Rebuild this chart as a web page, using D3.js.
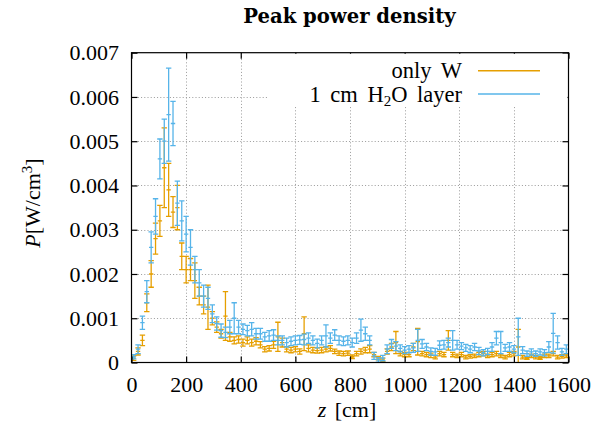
<!DOCTYPE html>
<html><head><meta charset="utf-8">
<script src="https://cdn.jsdelivr.net/npm/d3@7"></script>
<style>
body{margin:0;background:#fff}
svg{display:block}
</style>
</head><body>
<svg id="chart" width="592" height="433"></svg>
<script>
// ---- data (values in units of 1e-3 W/cm^3) ----
const binCenters = [8,24,40,56,72,88,104,120,136,152,168,184,200,216,232,248,264,280,296,312,
328,344,360,376,392,408,424,440,456,472,488,504,520,536,552,568,584,600,616,632,
648,664,680,696,712,728,744,760,776,792,808,824,840,856,872,888,904,920,936,952,
968,984,1000,1016,1032,1048,1064,1080,1096,1112,1128,1144,1160,1176,1192,1208,1224,1240,1256,1272,
1288,1304,1320,1336,1352,1368,1384,1400,1416,1432,1448,1464,1480,1496,1512,1528,1544,1560,1576,1592];
const binHalfWidth = 8;

const onlyW = [0.1,0.25,0.5,1.35,2.0,2.8,3.2,4.4,3.9,3.4,3.5,
2.4,2.1,2.1,1.85,1.5,1.3,1.25,1.0,0.8,0.65,
1.05,0.58,0.5,0.52,0.45,0.5,0.45,0.48,0.4,0.3,
0.32,0.4,0.58,0.45,0.3,0.28,0.3,0.25,0.65,0.32,
0.28,0.27,0.28,0.3,0.32,0.25,0.21,0.2,0.21,0.13,
0.2,0.25,0.28,0.3,0.18,0.1,0.06,0.25,0.35,0.45,
0.2,0.18,0.18,0.35,0.47,0.2,0.18,0.16,0.12,0.2,
0.18,0.5,0.18,0.15,0.18,0.12,0.14,0.15,0.18,0.2,
0.15,0.18,0.2,0.15,0.12,0.18,0.2,0.35,0.12,0.1,
0.15,0.12,0.1,0.15,0.15,0.2,0.12,0.14,0.15];
const onlyWErr = [0.05,0.08,0.12,0.2,0.3,0.35,0.35,0.9,0.6,0.35,0.5,
0.3,0.3,0.25,0.4,0.2,0.2,0.5,0.15,0.12,0.1,
0.55,0.1,0.08,0.08,0.08,0.08,0.08,0.08,0.07,0.06,
0.06,0.08,0.33,0.1,0.06,0.06,0.06,0.06,0.38,0.08,
0.06,0.06,0.06,0.06,0.06,0.05,0.05,0.05,0.05,0.04,
0.05,0.06,0.06,0.08,0.05,0.04,0.04,0.06,0.08,0.25,
0.05,0.05,0.05,0.08,0.3,0.05,0.05,0.05,0.04,0.05,
0.05,0.22,0.05,0.04,0.05,0.04,0.04,0.04,0.05,0.05,
0.04,0.05,0.05,0.04,0.04,0.05,0.05,0.4,0.04,0.03,
0.04,0.04,0.03,0.04,0.04,0.05,0.04,0.04,0.04];

const h2oLayer = [0.13,0.3,0.9,1.6,2.6,3.3,4.6,5.0,5.6,5.4,3.6,
3.2,2.9,2.6,2.1,1.8,1.5,1.45,1.1,0.88,0.72,
0.68,0.8,1.0,0.8,0.75,0.72,0.75,0.65,0.65,0.58,
0.6,0.62,0.5,0.5,0.45,0.48,0.5,0.51,0.52,0.55,
0.5,0.43,0.5,0.6,0.55,0.62,0.5,0.48,0.5,0.45,
0.55,0.73,0.65,0.5,0.15,0.06,0.1,0.3,0.42,0.37,
0.32,0.28,0.3,0.33,0.5,0.42,0.35,0.25,0.24,0.39,
0.4,0.45,0.5,0.4,0.37,0.33,0.3,0.35,0.26,0.22,
0.25,0.35,0.55,0.45,0.33,0.35,0.3,0.58,0.28,0.2,
0.24,0.2,0.24,0.22,0.35,0.66,0.45,0.24,0.3];
const h2oLayerErr = [0.05,0.1,0.15,0.25,0.35,0.4,0.45,0.5,1.05,0.5,0.5,
0.45,0.4,0.4,0.3,0.3,0.25,0.25,0.2,0.15,0.15,
0.12,0.15,0.35,0.15,0.12,0.12,0.15,0.12,0.12,0.1,
0.12,0.12,0.1,0.1,0.1,0.1,0.1,0.1,0.12,0.12,
0.1,0.1,0.1,0.25,0.12,0.12,0.1,0.1,0.1,0.1,
0.12,0.25,0.15,0.1,0.08,0.05,0.06,0.1,0.1,0.1,
0.08,0.08,0.08,0.1,0.25,0.1,0.08,0.08,0.08,0.1,
0.1,0.1,0.22,0.1,0.08,0.08,0.08,0.08,0.08,0.07,
0.07,0.1,0.15,0.25,0.08,0.1,0.08,0.42,0.08,0.06,
0.07,0.06,0.07,0.07,0.12,0.45,0.15,0.08,0.1];

const xTicks = [0,200,400,600,800,1000,1200,1400,1600];
const xTickLabels = ["0","200","400","600","800","1000","1200","1400","1600"];
const yTicks = [0,1,2,3,4,5,6,7];
const yTickLabels = ["0","0.001","0.002","0.003","0.004","0.005","0.006","0.007"];
const seriesNames = ["only W","1 cm H\u2082O layer"];
const seriesColors = ["#E69F00","#56B4E9"];

// ---- layout ----
const SERIF = "'Liberation Serif','Times New Roman',serif";
const L = 131.5, R = 568.5, T = 52.7, B = 362.5;
const svg = d3.select("#chart");
const x = d3.scaleLinear().domain([0,1600]).range([L,R]);
const y = d3.scaleLinear().domain([0,7]).range([B,T]);

// grid
const grid = svg.append("g").attr("stroke","#9a9a9a").attr("stroke-width",1).attr("stroke-dasharray","1,2.2");
grid.selectAll("line.gx").data(xTicks.slice(1,-1)).join("line")
  .attr("x1",d=>Math.round(x(d))+0.5).attr("x2",d=>Math.round(x(d))+0.5).attr("y1",T).attr("y2",B);
grid.selectAll("line.gy").data(yTicks.slice(1,-1)).join("line")
  .attr("y1",d=>Math.round(y(d))+0.5).attr("y2",d=>Math.round(y(d))+0.5).attr("x1",L).attr("x2",R);

// clip
svg.append("clipPath").attr("id","plotclip").append("rect")
  .attr("x",L).attr("y",T).attr("width",R-L).attr("height",B-T);

// series
function drawSeries(vals, errs, color){
  const g = svg.append("g").attr("clip-path","url(#plotclip)")
    .attr("stroke",color).attr("stroke-width",1.3).attr("fill","none");
  const pts = binCenters.map((z,i)=>({z, v:vals[i], e:errs[i]}));
  const cap = 2.7;
  g.selectAll("path").data(pts).join("path")
    .attr("d", d=>{
      const cx = x(d.z), y0 = y(d.v), yl = y(d.v-d.e), yh = y(d.v+d.e);
      const xl = x(d.z-binHalfWidth), xr = x(d.z+binHalfWidth);
      return `M${cx},${yl}V${yh}` +
             `M${cx-cap},${yh}H${cx+cap}` +
             `M${cx-cap},${yl}H${cx+cap}` +
             `M${xl},${y0}H${xr}`;
    });
}
drawSeries(onlyW, onlyWErr, seriesColors[0]);
drawSeries(h2oLayer, h2oLayerErr, seriesColors[1]);

// axes (ticks inward)
const fmtY = d => yTickLabels[yTicks.indexOf(d)];
const fmtX = d => xTickLabels[xTicks.indexOf(d)];
const axB = svg.append("g").attr("transform",`translate(0,${B})`)
  .call(d3.axisBottom(x).tickValues(xTicks).tickFormat(fmtX).tickSizeInner(-6).tickSizeOuter(0).tickPadding(13.5));
const axL = svg.append("g").attr("transform",`translate(${L},0)`)
  .call(d3.axisLeft(y).tickValues(yTicks).tickFormat(fmtY).tickSizeInner(-6).tickSizeOuter(0).tickPadding(12.5));
const axT = svg.append("g").attr("transform",`translate(0,${T})`)
  .call(d3.axisTop(x).tickValues(xTicks).tickFormat("").tickSizeInner(-6).tickSizeOuter(0));
const axR = svg.append("g").attr("transform",`translate(${R},0)`)
  .call(d3.axisRight(y).tickValues(yTicks).tickFormat("").tickSizeInner(-6).tickSizeOuter(0));
[axB,axL,axT,axR].forEach(a=>{
  a.select(".domain").remove();
  a.attr("font-family",null).attr("font-size",null);
  a.selectAll(".tick line").attr("stroke","#000").attr("stroke-width",1.2);
  a.selectAll("text").style("font-family",SERIF).style("font-size","22px").attr("fill","#000");
});

// legend (opaque key)
const lg = svg.append("g");
lg.append("rect").attr("x",268).attr("y",T+1).attr("width",R-268-1).attr("height",107-T-1).attr("fill","#fff");
const rows = [70.7, 94];
seriesNames.forEach((n,i)=>{
  const t = lg.append("text").attr("x",462).attr("y",rows[i]+7.5).attr("text-anchor","end")
    .style("font-family",SERIF).style("font-size","22.5px").style("word-spacing","4px");
  if(i===0){ t.text(n); }
  else {
    t.append("tspan").text("1 cm H");
    t.append("tspan").style("font-size","15px").attr("dy",4).text("2");
    t.append("tspan").attr("dy",-4).text("O layer");
  }
  lg.append("line").attr("x1",478).attr("x2",540).attr("y1",rows[i]).attr("y2",rows[i])
    .attr("stroke",seriesColors[i]).attr("stroke-width",1.5);
});

// frame
svg.append("rect").attr("x",L).attr("y",T).attr("width",R-L).attr("height",B-T)
  .attr("fill","none").attr("stroke","#000").attr("stroke-width",1.2);

// title
svg.append("text").attr("x",349.5).attr("y",23).attr("text-anchor","middle")
  .style("font-family","'DejaVu Serif',serif").style("font-weight","bold").style("font-size","19.6px")
  .text("Peak power density");

// x label
const xl = svg.append("text").attr("x",347).attr("y",417).attr("text-anchor","middle")
  .style("font-family",SERIF).style("font-size","22px").style("word-spacing","3px");
xl.append("tspan").style("font-style","italic").text("z");
xl.append("tspan").text(" [cm]");

// y label
const yl = svg.append("text").attr("transform","translate(40,203) rotate(-90)").attr("text-anchor","middle")
  .style("font-family",SERIF).style("font-size","22px");
yl.append("tspan").style("font-style","italic").text("P");
yl.append("tspan").text("[W/cm");
yl.append("tspan").style("font-size","15px").attr("dy",-8).text("3");
yl.append("tspan").attr("dy",8).text("]");
</script>
</body></html>
